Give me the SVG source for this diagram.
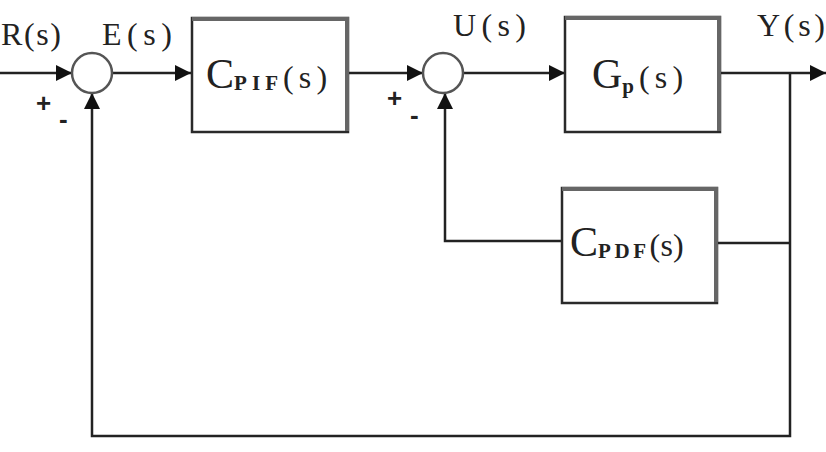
<svg xmlns="http://www.w3.org/2000/svg" width="826" height="452" viewBox="0 0 826 452">
<style>
.ln{fill:none;stroke:#222;stroke-width:2.5}
.box{fill:#fff;stroke:#2a2a2a;stroke-width:2.5}
.sh{fill:none;stroke:#666;stroke-width:4}
.sum{fill:#fff;stroke:#555;stroke-width:2.5}
.t{font-family:"Liberation Serif","Times New Roman",serif;font-size:32px;fill:#222}
.big{font-family:"Liberation Serif","Times New Roman",serif;font-size:42px;fill:#222}
.sub{font-family:"Liberation Serif","Times New Roman",serif;font-size:21px;font-weight:bold;fill:#222}
.sg{font-family:"Liberation Sans",Arial,sans-serif;font-size:26px;font-weight:bold;fill:#222}
</style>
<defs>
<marker id="ah" viewBox="0 0 10 10" refX="10" refY="5" markerWidth="6.5" markerHeight="6.5" markerUnits="strokeWidth" orient="auto">
<path d="M0,0 L10,5 L0,10 z" fill="#111"/>
</marker>
</defs>
<rect width="826" height="452" fill="#fff"/>
<g id="connectors">
<line class="ln" x1="0" y1="73" x2="72" y2="73" marker-end="url(#ah)"/>
<line class="ln" x1="112" y1="73" x2="191" y2="73" marker-end="url(#ah)"/>
<line class="ln" x1="348" y1="73" x2="423" y2="73" marker-end="url(#ah)"/>
<line class="ln" x1="463" y1="73" x2="565" y2="73" marker-end="url(#ah)"/>
<line class="ln" x1="720" y1="73" x2="826" y2="73" marker-end="url(#ah)"/>
<polyline class="ln" points="790,73 790,436 92,436 92,93" marker-end="url(#ah)"/>
<line class="ln" x1="790" y1="243" x2="717" y2="243"/>
<polyline class="ln" points="562,241 445,241 445,93" marker-end="url(#ah)"/>
</g>
<g id="sum1">
<circle class="sum" cx="92" cy="73" r="20"/>
<text class="sg" x="36" y="112">+</text>
<text class="sg" x="59" y="128">-</text>
</g>
<g id="sum2">
<circle class="sum" cx="443" cy="73" r="20"/>
<text class="sg" x="387" y="107">+</text>
<text class="sg" x="410" y="124">-</text>
</g>
<g id="cpif">
<rect class="box" x="192" y="18" width="156" height="114"/>
<polyline class="sh" points="192,19 347,19 347,131"/>
<text x="206" y="88"><tspan class="big">C</tspan><tspan class="sub" dy="2" textLength="44">PIF</tspan><tspan class="t" dy="-2" textLength="44">(s)</tspan></text>
</g>
<g id="gp">
<rect class="box" x="565" y="17" width="155" height="115"/>
<polyline class="sh" points="565,18 719,18 719,131"/>
<text x="592" y="88"><tspan class="big" font-size="38">G</tspan><tspan class="sub" dy="5" font-size="22">p</tspan><tspan class="t" dy="-5" dx="5" textLength="44">(s)</tspan></text>
</g>
<g id="cpdf">
<rect class="box" x="562" y="188" width="155" height="115"/>
<polyline class="sh" points="562,189 716,189 716,302"/>
<text x="570" y="256"><tspan class="big">C</tspan><tspan class="sub" dy="2" textLength="48">PDF</tspan><tspan class="t" dy="-2" textLength="34">(s)</tspan></text>
</g>
<g id="labels">
<text class="t" x="1" y="45" textLength="60">R(s)</text>
<text class="t" x="102" y="45" textLength="70">E(s)</text>
<text class="t" x="453" y="36" textLength="73">U(s)</text>
<text class="t" x="757" y="36" textLength="68">Y(s)</text>
</g>
</svg>
